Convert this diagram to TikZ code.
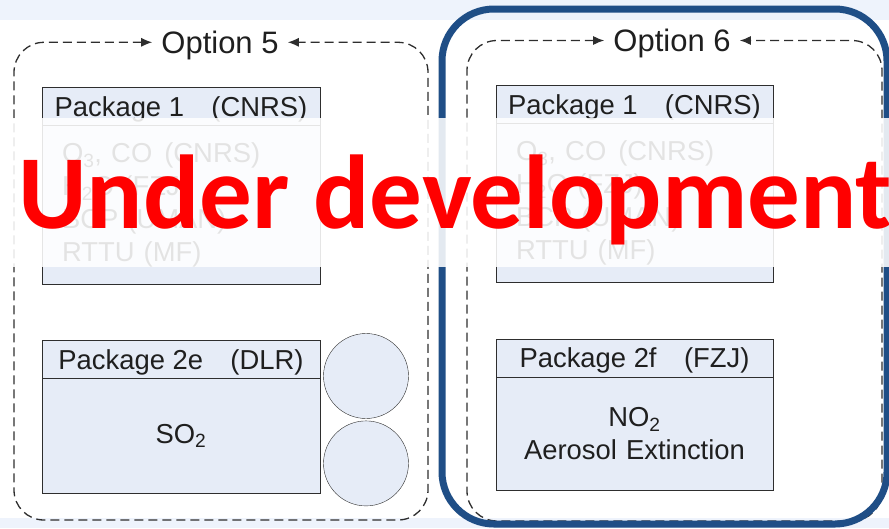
\documentclass[tikz,border=0pt]{standalone}
\usepackage{fontspec}
\setmainfont{Liberation Sans}
\newfontfamily\bannerfont{Carlito}
\usetikzlibrary{positioning,arrows.meta}
\definecolor{bandblue}{HTML}{EEF3FC}
\definecolor{boxfill}{HTML}{E6ECF7}
\definecolor{linegray}{HTML}{2E2E2E}
\definecolor{selblue}{HTML}{1F4E86}

\begin{document}
\begin{tikzpicture}[x=1pt, y=-1pt, >={Latex[length=11pt, width=9pt]}, font=\fontsize{27.4}{33}\selectfont, text=black!88,
  header/.style={rectangle, draw=linegray, fill=boxfill, outer sep=0pt, inner sep=0pt, minimum width=278pt, minimum height=38pt, text height=19.5pt, text depth=0pt},
  body/.style={rectangle, draw=linegray, fill=boxfill, outer sep=0pt, inner ysep=0pt, inner xsep=20pt, text width=238pt, below=0pt of #1},
  title/.style={font=\fontsize{31}{36}\selectfont, text height=22.5pt, text depth=0pt, inner xsep=9pt, inner ysep=0pt},
  frame/.style={draw=linegray, line width=1.3pt, dash pattern=on 9pt off 5pt, rounded corners=30pt, <->},
  roller/.style={circle, draw=linegray, fill=boxfill, minimum size=85pt, inner sep=0pt}]
\useasboundingbox (0,0) rectangle (889,528);
\fill[bandblue] (0,0) rectangle (889,20);
\fill[bandblue] (0,518) rectangle (889,528);

% option 5
\node[title] (optfive) at (220,42.3) {Option 5};
\draw[frame] (optfive.west) -| (14,520) -| (428,42.3) -- (optfive.east);
\node[header] (leftpkgone) at (181,106.5) {Package 1\quad(CNRS)};
\node[body=leftpkgone, minimum height=159pt, align=left] (leftpkgonebody) {O\textsubscript{3}, CO\hspace{12pt}(CNRS)\\H\textsubscript{2}O (FZJ)\\BCP (UMAN)\\RTTU (MF)};
\node[header] (pkgtwoe) at (181,359.5) {Package 2e\quad(DLR)};
\node[body=pkgtwoe, minimum height=115pt, align=center] (pkgtwoebody) {SO\textsubscript{2}};
\node[roller] (topcircle) at (366,376) {};
\node[roller, below=2pt of topcircle] (bottomcircle) {};

% option 6
\node[title] (optsix) at (672,40.5) {Option 6};
\draw[frame] (optsix.west) -| (467,521) -| (882,40.5) -- (optsix.east);
\node[header, minimum width=277pt] (rightpkgone) at (634.5,104.5) {Package 1\quad(CNRS)};
\node[body=rightpkgone, text width=237pt, minimum height=159pt, align=left] (rightpkgonebody) {O\textsubscript{3}, CO\hspace{12pt}(CNRS)\\H\textsubscript{2}O (FZJ)\\BCP (UMAN)\\RTTU (MF)};
\node[header, minimum width=277pt] (pkgtwof) at (634.5,358) {Package 2f\quad(FZJ)};
\node[body=pkgtwof, text width=237pt, minimum height=113pt, align=center] (pkgtwofbody) {NO\textsubscript{2}\\Aerosol Extinction};

\draw[selblue, line width=7pt, rounded corners=52pt] (442,9) rectangle (887,524);

% banner
\fill[white, opacity=0.88] (0,118) rectangle (889,267);
\node[anchor=base west, inner sep=0pt, text=red, font=\bannerfont\bfseries\fontsize{105}{105}\selectfont] (banner) at (18,228) {Under development};
\end{tikzpicture}
\end{document}
